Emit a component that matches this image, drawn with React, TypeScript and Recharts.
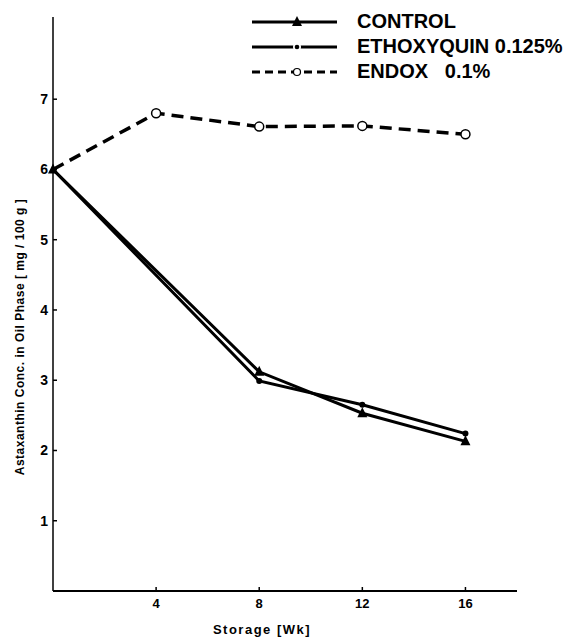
import React from "react";
import { LineChart, Line, XAxis, YAxis } from "recharts";

const weeks = [0, 4, 8, 12, 16];
const control = [6.0, null, 3.12, 2.53, 2.13];
const ethoxyquin = [6.0, null, 2.99, 2.65, 2.24];
const endox = [6.0, 6.8, 6.61, 6.62, 6.5];
const xTicks = [4, 8, 12, 16];
const yTicks = [1, 2, 3, 4, 5, 6, 7];
const legendLabels = ["CONTROL", "ETHOXYQUIN 0.125%", "ENDOX   0.1%"];

const data = weeks.map((w, i) => ({
  week: w,
  control: control[i],
  ethoxyquin: ethoxyquin[i],
  endox: endox[i],
}));

const FONT = "'Liberation Sans', Arial, sans-serif";

const YTick = (props: any) => {
  const { x, y, payload } = props;
  return (
    <g>
      <line x1={x} x2={x + 4} y1={y} y2={y} stroke="#000" strokeWidth={1.5} />
      <text x={x - 5} y={y} dy={5} textAnchor="end" fontFamily={FONT} fontWeight="bold" fontSize={14} fill="#000">
        {payload.value}
      </text>
    </g>
  );
};

const XTick = (props: any) => {
  const { x, y, payload } = props;
  return (
    <g>
      <line x1={x} x2={x} y1={y} y2={y - 4} stroke="#000" strokeWidth={1.5} />
      <text x={x} y={y + 17} textAnchor="middle" fontFamily={FONT} fontWeight="bold" fontSize={13} fill="#000">
        {payload.value}
      </text>
    </g>
  );
};

const Triangle = (props: any) => {
  const { cx, cy, value } = props;
  if (value == null || cx == null) return null;
  return <path d={`M${cx},${cy - 6} L${cx + 5},${cy + 4} L${cx - 5},${cy + 4} Z`} fill="#000" />;
};
const SmallDot = (props: any) => {
  const { cx, cy, value, index } = props;
  if (value == null || cx == null || index === 0) return null;
  return <circle cx={cx} cy={cy} r={3} fill="#000" />;
};
const OpenDot = (props: any) => {
  const { cx, cy, value, index } = props;
  if (value == null || cx == null || index === 0) return null;
  return <circle cx={cx} cy={cy} r={4.5} fill="#fff" stroke="#000" strokeWidth={1.5} />;
};

const Legend = () => {
  const x0 = 252;
  const x1 = 337;
  const mx = 297;
  const tx = 357;
  const rows = [22, 47, 72];
  return (
    <g>
      <line x1={x0} x2={x1} y1={rows[0]} y2={rows[0]} stroke="#000" strokeWidth={3} />
      <path d={`M${mx},${rows[0] - 6} L${mx + 5},${rows[0] + 4} L${mx - 5},${rows[0] + 4} Z`} fill="#000" />
      <line x1={x0} x2={x1} y1={rows[1]} y2={rows[1]} stroke="#000" strokeWidth={3} />
      <circle cx={mx} cy={rows[1]} r={4} fill="#fff" />
      <circle cx={mx} cy={rows[1]} r={2.3} fill="#000" />
      <line x1={x0} x2={x1} y1={rows[2]} y2={rows[2]} stroke="#000" strokeWidth={3} strokeDasharray="8 5" />
      <circle cx={mx} cy={rows[2]} r={3.5} fill="#fff" stroke="#000" strokeWidth={1.2} />
      {legendLabels.map((l, i) => (
        <text key={l} x={tx} y={rows[i] + 6} fontFamily={FONT} fontWeight="bold" fontSize={20} fill="#000" style={{ whiteSpace: "pre" }}>
          {l}
        </text>
      ))}
    </g>
  );
};

export default function App() {
  return (
    <div style={{ position: "absolute", left: 0, top: 0, width: 574, height: 637, background: "#fff" }}>
      <LineChart width={574} height={637} data={data} margin={{ top: 17, right: 57, bottom: 16, left: 13 }}>
        <XAxis
          dataKey="week"
          type="number"
          domain={[0, 18]}
          ticks={xTicks}
          tick={<XTick />}
          tickSize={0}
          tickMargin={0}
          tickLine={false}
          height={30}
          axisLine={{ stroke: "#000", strokeWidth: 2 }}
        />
        <YAxis
          type="number"
          domain={[0, 8.17]}
          ticks={yTicks}
          tick={<YTick />}
          tickSize={0}
          tickMargin={0}
          tickLine={false}
          width={40}
          axisLine={{ stroke: "#000", strokeWidth: 1.5 }}
        />
        <Line dataKey="endox" stroke="#000" strokeWidth={3.5} strokeDasharray="12 7" dot={<OpenDot />} activeDot={false} isAnimationActive={false} connectNulls />
        <Line dataKey="control" stroke="#000" strokeWidth={3} dot={<Triangle />} activeDot={false} isAnimationActive={false} connectNulls />
        <Line dataKey="ethoxyquin" stroke="#000" strokeWidth={3} dot={<SmallDot />} activeDot={false} isAnimationActive={false} connectNulls />
        <Legend />
        <text x={262} y={634} textAnchor="middle" fontFamily={FONT} fontWeight="bold" fontSize={13} letterSpacing={1.5} fill="#000">
          Storage [Wk]
        </text>
        <text
          x={21}
          y={337}
          transform="rotate(-90 21 337)"
          textAnchor="middle"
          dominantBaseline="middle"
          fontFamily={FONT}
          fontWeight="bold"
          fontSize={12}
          letterSpacing={0.5}
          fill="#000"
        >
          Astaxanthin Conc. in Oil Phase [ mg / 100 g ]
        </text>
      </LineChart>
    </div>
  );
}
